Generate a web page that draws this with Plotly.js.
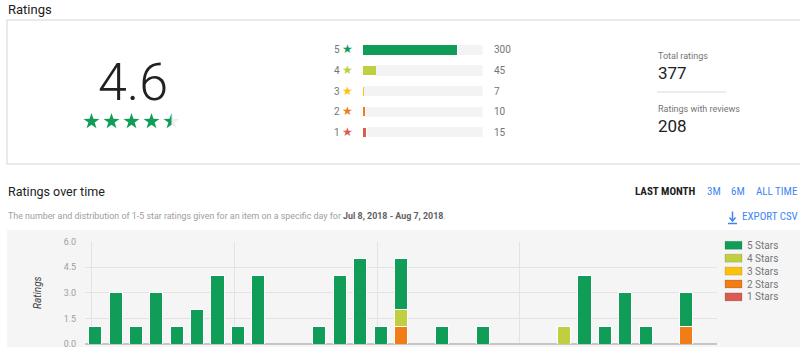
<!DOCTYPE html>
<html>
<head>
<meta charset="utf-8">
<script src="https://cdn.plot.ly/plotly-3.0.1.min.js"></script>
<style>
  html, body { margin: 0; padding: 0; background: #ffffff; }
  #chart { width: 800px; height: 347px; }
</style>
</head>
<body>
<div id="chart"></div>
<script>
// ---------- DATA ----------
const averageRating = 4.6;
const totalRatings = 377;
const ratingsWithReviews = 208;

const starLevels = ['5', '4', '3', '2', '1'];
const starCounts = [300, 45, 7, 10, 15];
const starColors = ['#0f9d58', '#c0cf3f', '#fec10b', '#f07d17', '#db5b50'];

const dates = [
  '2018-07-08', '2018-07-09', '2018-07-10', '2018-07-11', '2018-07-12', '2018-07-13', '2018-07-14',
  '2018-07-15', '2018-07-16', '2018-07-17', '2018-07-18', '2018-07-19', '2018-07-20', '2018-07-21',
  '2018-07-22', '2018-07-23', '2018-07-24', '2018-07-25', '2018-07-26', '2018-07-27', '2018-07-28',
  '2018-07-29', '2018-07-30', '2018-07-31', '2018-08-01', '2018-08-02', '2018-08-03', '2018-08-04',
  '2018-08-05', '2018-08-06', '2018-08-07'
];
const oneStar   = [0,0,0,0,0,0,0, 0,0,0,0,0,0,0, 0,0,0,0,0,0,0, 0,0,0,0,0,0,0, 0,0,0];
const twoStar   = [0,0,0,0,0,0,0, 0,0,0,0,0,0,0, 0,1,0,0,0,0,0, 0,0,0,0,0,0,0, 0,1,0];
const threeStar = [0,0,0,0,0,0,0, 0,0,0,0,0,0,0, 0,0,0,0,0,0,0, 0,0,0,0,0,0,0, 0,0,0];
const fourStar  = [0,0,0,0,0,0,0, 0,0,0,0,0,0,0, 0,1,0,0,0,0,0, 0,0,1,0,0,0,0, 0,0,0];
const fiveStar  = [1,3,1,3,1,2,4, 1,4,0,0,1,4,5, 1,3,0,1,0,1,0, 0,0,0,4,1,3,1, 0,2,0];

const seriesNames  = ['1 Stars', '2 Stars', '3 Stars', '4 Stars', '5 Stars'];
const seriesValues = [oneStar, twoStar, threeStar, fourStar, fiveStar];
const seriesColors = ['#db5b50', '#f07d17', '#fec10b', '#c0cf3f', '#0f9d58'];

const yTicks = [0, 1.5, 3, 4.5, 6];
const weekGridDates = ['2018-07-07 20:00', '2018-07-14 20:00', '2018-07-21 20:00', '2018-07-28 20:00'];

// ---------- HELPERS (pixel -> paper, margins are 0) ----------
const W = 800, H = 347;
const px = x => x / W;
const py = y => 1 - y / H;
const FONT = 'Roboto, "Open Sans", sans-serif';
const NARROW = '"Roboto Condensed", "Liberation Sans Narrow", Roboto, sans-serif';

function ann(text, x, y, o) {
  o = o || {};
  return Object.assign({
    text: text, x: px(x), y: py(y), xref: 'paper', yref: 'paper',
    xanchor: 'left', yanchor: 'middle', showarrow: false,
    font: { family: FONT, size: 12, color: '#212121' }
  }, o);
}

function starPath(cx, cy, R, r, half) {
  const pts = [];
  const angles = half ? [-90, -126, -162, 162, 126, 90] : [-90, -54, -18, 18, 54, 90, 126, 162, 198, 234];
  angles.forEach((a, i) => {
    const rr = (i % 2 === 0) ? R : r;
    const t = a * Math.PI / 180;
    pts.push([px(cx + rr * Math.cos(t)), py(cy + rr * Math.sin(t))]);
  });
  return 'M' + pts.map(p => p[0].toFixed(5) + ',' + p[1].toFixed(5)).join('L') + 'Z';
}

// ---------- TRACES ----------
const traces = [];
seriesNames.forEach((name, i) => {
  traces.push({
    type: 'bar', name: name, x: dates, y: seriesValues[i],
    marker: { color: seriesColors[i], line: { color: '#ffffff', width: 1 } },
    xaxis: 'x', yaxis: 'y', hoverinfo: 'skip', showlegend: false
  });
});
traces.push({
  type: 'bar', orientation: 'h', y: starLevels, x: starCounts, width: 0.5,
  marker: { color: starColors, line: { color: '#ffffff', width: 1 } },
  xaxis: 'x2', yaxis: 'y2', hoverinfo: 'skip', showlegend: false
});
traces.push({
  type: 'bar', orientation: 'h', y: starLevels, x: starCounts.map(c => totalRatings - c), width: 0.5,
  marker: { color: '#f3f3f3', line: { width: 0 } },
  xaxis: 'x2', yaxis: 'y2', hoverinfo: 'skip', showlegend: false
});

// ---------- SHAPES ----------
const shapes = [];
shapes.push({ type: 'rect', xref: 'paper', yref: 'paper', x0: px(7), x1: px(803), y0: py(164), y1: py(20),
  line: { color: '#e3e3e3', width: 1.5 }, fillcolor: '#ffffff', layer: 'below' });
shapes.push({ type: 'rect', xref: 'paper', yref: 'paper', x0: px(7), x1: px(803), y0: py(350), y1: py(230),
  line: { width: 0 }, fillcolor: '#f5f5f5', layer: 'below' });
shapes.push({ type: 'line', xref: 'paper', yref: 'paper', x0: px(657), x1: px(726), y0: py(92), y1: py(92),
  line: { color: '#e6e6e6', width: 1.5 } });
const fullStars = Math.floor(averageRating);
for (let i = 0; i < 5; i++) {
  const cx = 91.5 + i * 20, cy = 121.5;
  if (i < fullStars) {
    shapes.push({ type: 'path', xref: 'paper', yref: 'paper', path: starPath(cx, cy, 8.4, 3.3, false),
      fillcolor: '#0f9d58', line: { width: 0 } });
  } else {
    shapes.push({ type: 'path', xref: 'paper', yref: 'paper', path: starPath(cx, cy, 8.4, 3.3, false),
      fillcolor: '#eeeeee', line: { width: 0 } });
    if (i === fullStars && averageRating - fullStars > 0) {
      shapes.push({ type: 'path', xref: 'paper', yref: 'paper', path: starPath(cx, cy, 8.4, 3.3, true),
        fillcolor: '#0f9d58', line: { width: 0 } });
    }
  }
}
// export icon: arrow shaft, head and underline
shapes.push({ type: 'line', xref: 'paper', yref: 'paper', x0: px(732.5), x1: px(732.5), y0: py(211.5), y1: py(220),
  line: { color: '#4285f4', width: 1.5 } });
shapes.push({ type: 'path', xref: 'paper', yref: 'paper',
  path: 'M' + px(729.5) + ',' + py(217.5) + 'L' + px(732.5) + ',' + py(221) + 'L' + px(735.5) + ',' + py(217.5),
  line: { color: '#4285f4', width: 1.5 } });
shapes.push({ type: 'line', xref: 'paper', yref: 'paper', x0: px(728), x1: px(737), y0: py(223.5), y1: py(223.5),
  line: { color: '#4285f4', width: 1.5 } });
// custom legend swatches (top = 5 Stars)
for (let k = 0; k < seriesNames.length; k++) {
  const i = seriesNames.length - 1 - k;
  const yc = 245.3 + k * 12.9;
  shapes.push({ type: 'rect', xref: 'paper', yref: 'paper', x0: px(725), x1: px(742), y0: py(yc + 4), y1: py(yc - 4),
    fillcolor: seriesColors[i], line: { color: 'rgba(0,0,0,0.12)', width: 1 } });
}

// ---------- ANNOTATIONS ----------
const annotations = [];
annotations.push(ann('Ratings', 6, 9, { font: { family: FONT, size: 13, color: '#212121' } }));
annotations.push(ann(averageRating.toFixed(1), 133, 83, { xanchor: 'center',
  font: { family: FONT, size: 52, color: '#212121', weight: 300 } }));
const catOrder = starLevels.slice().reverse();
starLevels.forEach((lvl, i) => {
  annotations.push({ text: String(starCounts[i]), x: px(492), xref: 'paper', y: catOrder.indexOf(lvl), yref: 'y2',
    xanchor: 'left', yanchor: 'middle', showarrow: false,
    font: { family: FONT, size: 10, color: '#757575' } });
});
annotations.push(ann('Total ratings', 656, 56, { font: { family: FONT, size: 9, color: '#757575' } }));
annotations.push(ann(String(totalRatings), 656, 73, { font: { family: FONT, size: 17, color: '#212121' } }));
annotations.push(ann('Ratings with reviews', 656, 109, { font: { family: FONT, size: 9, color: '#757575' } }));
annotations.push(ann(String(ratingsWithReviews), 656, 126, { font: { family: FONT, size: 17, color: '#212121' } }));
annotations.push(ann('Ratings over time', 6, 191, { font: { family: FONT, size: 12.5, color: '#212121' } }));
annotations.push(ann('LAST MONTH', 633, 191, { font: { family: NARROW, size: 11, color: '#212121', weight: 700 } }));
annotations.push(ann('3M', 705, 191, { font: { family: NARROW, size: 11, color: '#4285f4' } }));
annotations.push(ann('6M', 729, 191, { font: { family: NARROW, size: 11, color: '#4285f4' } }));
annotations.push(ann('ALL TIME', 754, 191, { font: { family: NARROW, size: 11, color: '#4285f4' } }));
annotations.push(ann('The number and distribution of 1-5 star ratings given for an item on a specific day for ' +
  '<span style="color:#616161;font-weight:bold">Jul 8, 2018 - Aug 7, 2018</span>.', 6, 216,
  { font: { family: FONT, size: 8.9, color: '#9e9e9e' } }));
annotations.push(ann('EXPORT CSV', 740, 216.5, { font: { family: NARROW, size: 11, color: '#4285f4' } }));
annotations.push(ann('<i>Ratings</i>', 37, 293, { xanchor: 'center', textangle: -90,
  font: { family: FONT, size: 10, color: '#424242' } }));
for (let k = 0; k < seriesNames.length; k++) {
  const i = seriesNames.length - 1 - k;
  annotations.push(ann(seriesNames[i], 745, 245.3 + k * 12.9, { font: { family: FONT, size: 10, color: '#757575' } }));
}

// ---------- LAYOUT ----------
const layout = {
  width: W, height: H,
  margin: { l: 0, r: 0, t: 0, b: 0, pad: 0 },
  paper_bgcolor: '#ffffff', plot_bgcolor: 'rgba(0,0,0,0)',
  barmode: 'stack', bargap: 0.36,
  showlegend: false,
  font: { family: FONT },
  xaxis: {
    type: 'date', domain: [px(85), px(717)], anchor: 'y',
    range: ['2018-07-07 12:00', '2018-08-07 12:00'],
    tickvals: weekGridDates, showticklabels: false, ticks: '',
    showgrid: true, gridcolor: '#e3e3e3', gridwidth: 1, zeroline: false, showline: false, fixedrange: true
  },
  yaxis: {
    domain: [py(344), py(241.5)], anchor: 'x', range: [0, 6],
    tickvals: yTicks, tickformat: '.1f', ticks: 'outside', ticklen: 6, tickcolor: 'rgba(0,0,0,0)',
    ticklabeloverflow: 'allow',
    tickfont: { family: FONT, size: 9, color: '#9e9e9e' },
    showgrid: true, gridcolor: '#e3e3e3', gridwidth: 1,
    zeroline: true, zerolinecolor: '#c6c6c6', zerolinewidth: 2, showline: false, fixedrange: true
  },
  xaxis2: {
    domain: [px(362), px(482.5)], anchor: 'y2', range: [0, totalRatings],
    showgrid: false, zeroline: false, showticklabels: false, ticks: '', showline: false, fixedrange: true
  },
  yaxis2: {
    domain: [py(142.6), py(39.7)], anchor: 'x2', type: 'category',
    categoryorder: 'array', categoryarray: catOrder,
    tickvals: starLevels,
    ticktext: starLevels.map((l, i) => l + ' <span style="color:' + starColors[i] + ';font-size:12px">★</span>'),
    ticks: 'outside', ticklen: 6, tickcolor: 'rgba(0,0,0,0)',
    tickfont: { family: FONT, size: 10, color: '#757575' },
    showgrid: false, zeroline: false, showline: false, fixedrange: true
  },
  shapes: shapes,
  annotations: annotations
};

Plotly.newPlot('chart', traces, layout, { displayModeBar: false, staticPlot: true });
</script>
</body>
</html>
